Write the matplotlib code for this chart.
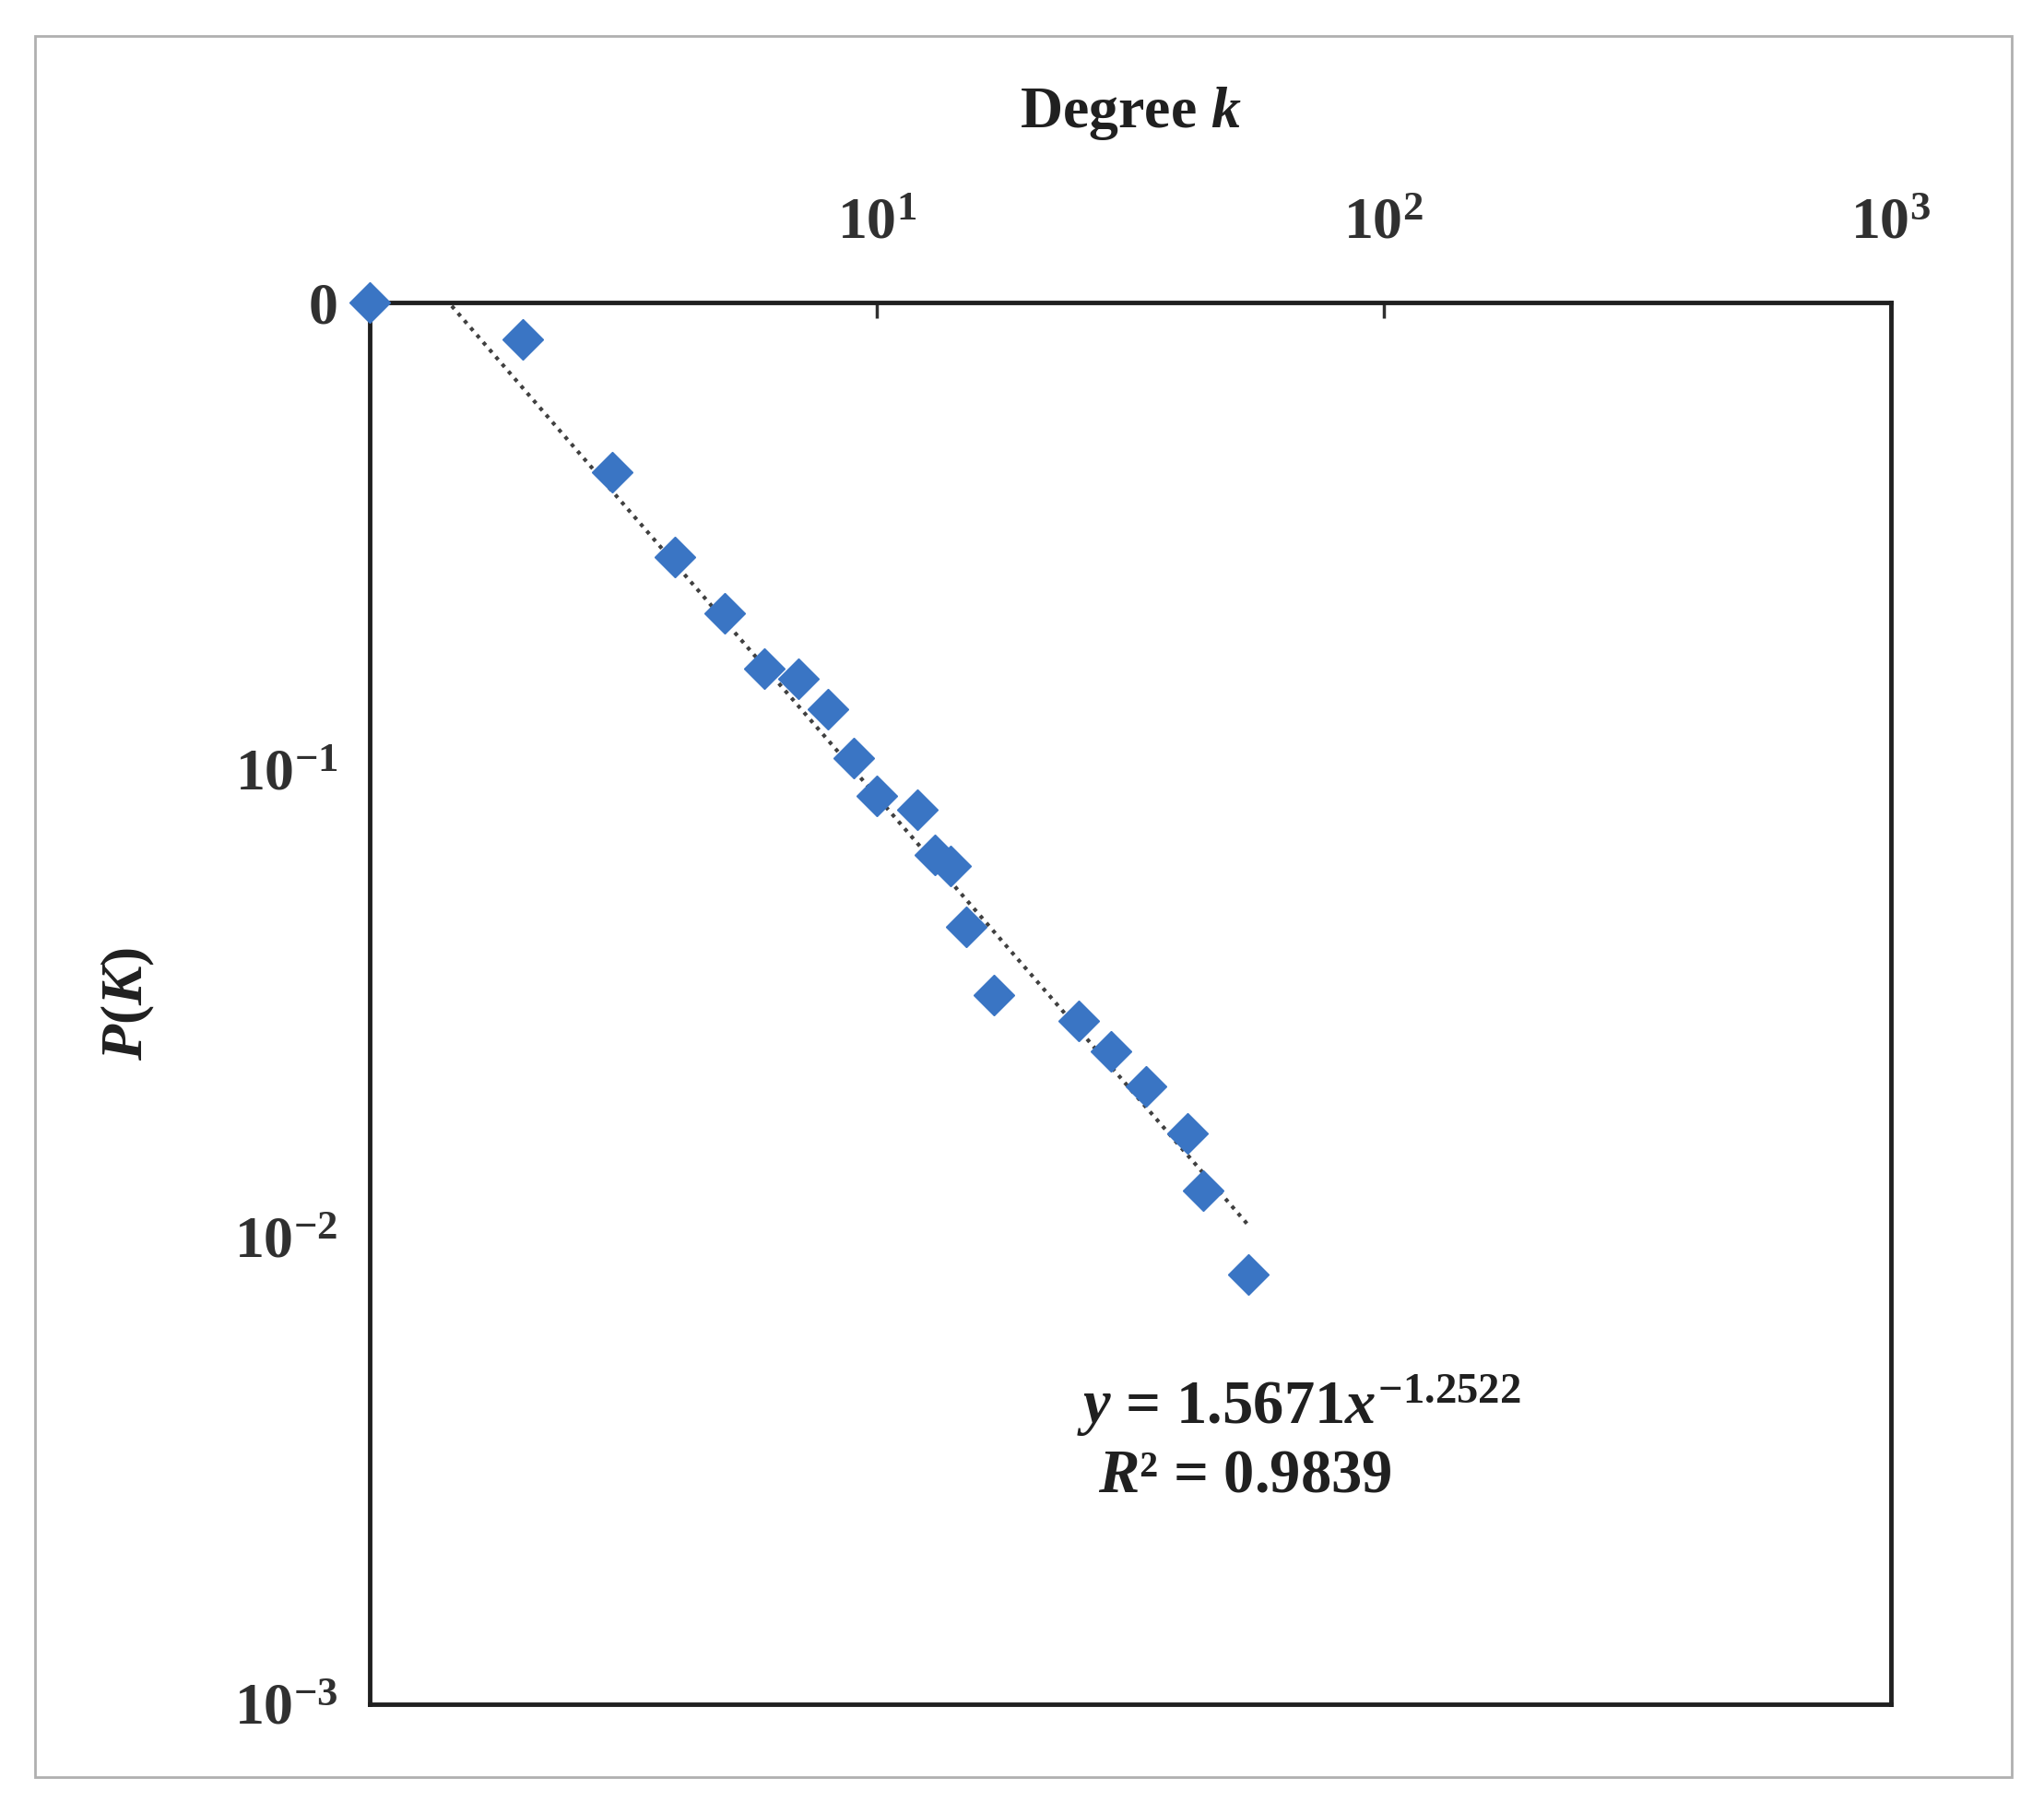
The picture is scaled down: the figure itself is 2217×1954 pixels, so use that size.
import matplotlib

matplotlib.use("Agg")
import matplotlib.pyplot as plt
import numpy as np
from matplotlib.patches import Rectangle

# degree distribution
degree = [1, 2, 3, 4, 5, 6, 7, 8, 9, 10, 12, 13, 14, 15, 17, 25, 29, 34, 41, 44, 54]
prob = [1.0, 0.835, 0.433, 0.285, 0.216, 0.165, 0.157, 0.135, 0.106, 0.0878, 0.0822,
        0.0657, 0.0624, 0.0461, 0.033, 0.029, 0.025, 0.021, 0.0167, 0.0126, 0.0083]
fit_a, fit_b = 1.5671, -1.2522
x_ticks = [10, 100, 1000]
x_labels = [r"$\mathbf{10^{1}}$", r"$\mathbf{10^{2}}$", r"$\mathbf{10^{3}}$"]
y_ticks = [1, 0.1, 0.01, 0.001]
y_labels = ["0", r"$\mathbf{10^{-1}}$", r"$\mathbf{10^{-2}}$", r"$\mathbf{10^{-3}}$"]

plt.rcParams["font.family"] = ["Liberation Serif", "DejaVu Serif"]
plt.rcParams["mathtext.fontset"] = "custom"
plt.rcParams["mathtext.rm"] = "Liberation Serif"
plt.rcParams["mathtext.it"] = "Liberation Serif:italic:bold"
plt.rcParams["mathtext.bf"] = "Liberation Serif:bold"

fig = plt.figure(figsize=(22.17, 19.54), dpi=100)
fig.patches.append(Rectangle((0.017, 0.014), 0.967, 0.966, transform=fig.transFigure,
                             fill=False, edgecolor="#b0b0b0", linewidth=2))
ax = fig.add_axes([0.181, 0.0543, 0.744, 0.7777])
ax.set_xscale("log")
ax.set_yscale("log")
ax.set_xlim(1, 1000)
ax.set_ylim(0.001, 1)

kk = np.linspace(1, max(degree), 400)
ax.plot(kk, fit_a * kk ** fit_b, linestyle=(0, (1, 1.5)), color="#404040", linewidth=3)
ax.plot(degree, prob, "D", color="#3a75c4", markersize=22, clip_on=False, zorder=3)

ax.xaxis.tick_top()
ax.xaxis.set_label_position("top")
ax.set_xticks(x_ticks, x_labels)
ax.set_yticks(y_ticks, y_labels)
ax.minorticks_off()
ax.tick_params(axis="x", direction="in", length=12, width=2.5, labelsize=46, pad=40,
               colors="#303030")
ax.tick_params(axis="y", length=0, labelsize=46, pad=25, colors="#303030")
for lab in ax.get_yticklabels():
    lab.set_fontweight("bold")
for s in ax.spines.values():
    s.set_linewidth(3.5)
    s.set_color("#202020")

ax.set_xlabel(r"Degree $\it{k}$", fontsize=46, fontweight="bold", labelpad=55, color="#202020")
ax.set_ylabel(r"$\it{P}$($\it{K}$)", fontsize=46, fontweight="bold", labelpad=60, color="#202020")

fig.text(0.527, 0.21, r"$\it{y}$ = 1.5671$\it{x}^{\mathbf{-1.2522}}$", fontsize=48,
         fontweight="bold", color="#202020")
fig.text(0.537, 0.172, r"$\it{R}$² = 0.9839", fontsize=48, fontweight="bold", color="#202020")

fig.savefig("out.png", dpi=100)
